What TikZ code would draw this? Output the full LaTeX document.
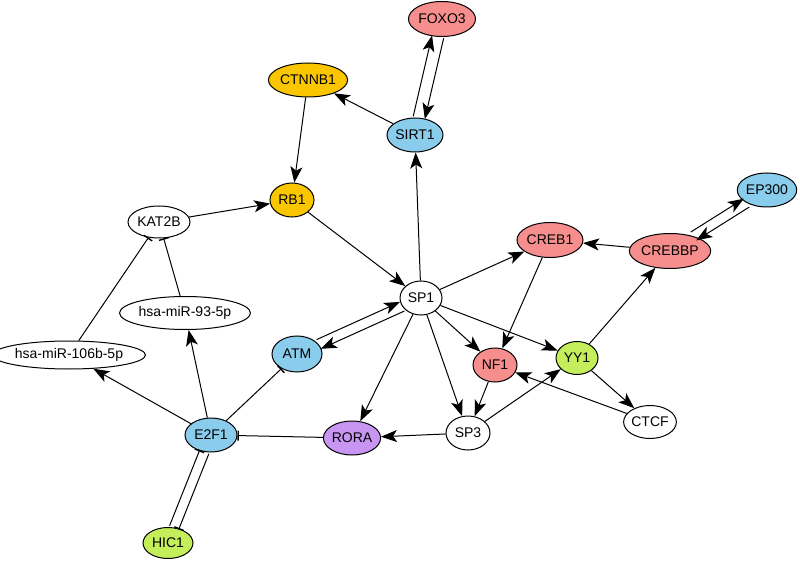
\documentclass[tikz,border=0pt]{standalone}
\usepackage{fontspec}
\setmainfont{Liberation Sans}
\usetikzlibrary{shapes.geometric,arrows.meta}
\definecolor{cpink}{RGB}{246,142,142}
\definecolor{cgold}{RGB}{250,198,0}
\definecolor{cblue}{RGB}{138,204,236}
\definecolor{cgreen}{RGB}{196,238,90}
\definecolor{cpurple}{RGB}{200,150,242}
\begin{document}
\begin{tikzpicture}[x=1pt,y=-1pt,
  gn/.style={ellipse,draw=black,line width=1pt,inner sep=0pt,fill=white,font=\fontsize{14}{15}\selectfont},
  act/.style={-{Stealth[length=16pt,width=12pt,inset=4pt]},line width=1pt},
  inh/.style={-{Bar[width=10pt,line width=1.4pt]},line width=1pt}]
\useasboundingbox (0,0) rectangle (800,561);
\node[gn,fill=cpink,minimum width=60pt,minimum height=35pt] (FOXO3) at (442,19) {FOXO3};
\node[gn,fill=cgold,minimum width=73pt,minimum height=34pt] (CTNNB1) at (308,80) {CTNNB1};
\node[gn,fill=cblue,minimum width=56pt,minimum height=34pt] (SIRT1) at (415,135) {SIRT1};
\node[gn,fill=cgold,minimum width=44pt,minimum height=34pt] (RB1) at (292,200) {RB1};
\node[gn,minimum width=62pt,minimum height=32pt] (KAT2B) at (159,222) {KAT2B};
\node[gn,fill=cblue,minimum width=58pt,minimum height=34pt] (EP300) at (767,190) {EP300};
\node[gn,fill=cpink,minimum width=64pt,minimum height=35pt] (CREB1) at (550,240) {CREB1};
\node[gn,fill=cpink,minimum width=72pt,minimum height=35pt] (CREBBP) at (670,251) {CREBBP};
\node[gn,minimum width=42pt,minimum height=34pt] (SP1) at (421,298) {SP1};
\node[gn,minimum width=118pt,minimum height=33pt] (miR93) at (185,313) {hsa-miR-93-5p};
\node[gn,fill=cblue,minimum width=50pt,minimum height=36pt] (ATM) at (297,354) {ATM};
\node[gn,minimum width=136pt,minimum height=28pt] (miR106) at (69,355) {hsa-miR-106b-5p};
\node[gn,fill=cpink,minimum width=44pt,minimum height=34pt] (NF1) at (495,365) {NF1};
\node[gn,fill=cgreen,minimum width=42pt,minimum height=33pt] (YY1) at (577,358) {YY1};
\node[gn,minimum width=44pt,minimum height=34pt] (SP3) at (468,433) {SP3};
\node[gn,minimum width=52pt,minimum height=33pt] (CTCF) at (650,422) {CTCF};
\node[gn,fill=cblue,minimum width=52pt,minimum height=34pt] (E2F1) at (211,435) {E2F1};
\node[gn,fill=cpurple,minimum width=56pt,minimum height=34pt] (RORA) at (352,438) {RORA};
\node[gn,fill=cgreen,minimum width=50pt,minimum height=31pt] (HIC1) at (168,543) {HIC1};

\draw[act] (SP1) -- (SIRT1);
\draw[act] (SIRT1) -- (CTNNB1);
\draw[act] (CTNNB1) -- (RB1);
\draw[act] (KAT2B) -- (RB1);
\draw[act] (RB1) -- (SP1);
\draw[act] (SP1) -- (CREB1);
\draw[act] (CREBBP) -- (CREB1);
\draw[act] (YY1) -- (CREBBP);
\draw[act] (CREB1) -- (NF1);
\draw[act] (SP1) -- (NF1);
\draw[act] (SP1) -- (YY1);
\draw[act] (SP1) -- (SP3);
\draw[act] (SP1) -- (RORA);
\draw[act] (NF1) -- (SP3);
\draw[act] (SP3) -- (YY1);
\draw[act] (YY1) -- (CTCF);
\draw[act] (CTCF) -- (NF1);
\draw[act] (SP3) -- (RORA);
\draw[inh] (RORA) -- (E2F1);
\draw[act] (E2F1) -- (miR93);
\draw[act] (E2F1) -- (miR106);
\draw[inh] (E2F1) -- (ATM);
\draw[inh] (miR93) -- (KAT2B);
\draw[inh] (miR106) -- (KAT2B);
% parallel pairs
\draw[act,transform canvas={shift={(-5.8pt,1.4pt)}}] (SIRT1) -- (FOXO3);
\draw[act,transform canvas={shift={(5.8pt,-1.4pt)}}] (FOXO3) -- (SIRT1);
\draw[act,transform canvas={shift={(-2.1pt,4.6pt)}}] (ATM) -- (SP1);
\draw[act,transform canvas={shift={(2.1pt,-4.6pt)}}] (SP1) -- (ATM);
\draw[act,transform canvas={shift={(-2.7pt,4.2pt)}}] (CREBBP) -- (EP300);
\draw[act,transform canvas={shift={(2.7pt,-4.2pt)}}] (EP300) -- (CREBBP);
\draw[inh,transform canvas={shift={(-4.6pt,1.8pt)}}] (HIC1) -- (E2F1);
\draw[inh,transform canvas={shift={(4.6pt,-1.8pt)}}] (E2F1) -- (HIC1);
\end{tikzpicture}
\end{document}
